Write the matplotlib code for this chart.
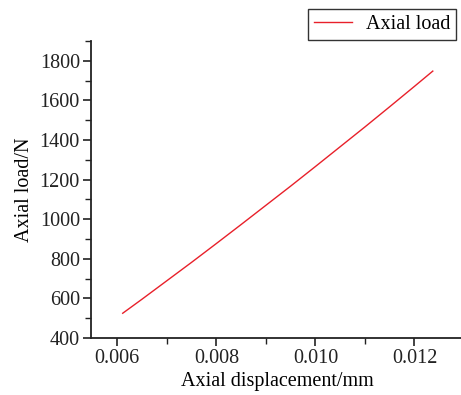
import matplotlib.pyplot as plt
from matplotlib.ticker import MultipleLocator

# Axial displacement (mm) vs axial load (N)
displacement = [0.00611, 0.0065, 0.0070, 0.0075, 0.0080, 0.0085, 0.0090, 0.0095,
                0.0100, 0.0105, 0.0110, 0.0115, 0.0120, 0.01237]
load = [525, 596, 689, 782, 877, 973, 1070, 1167,
        1266, 1366, 1466, 1568, 1671, 1748]

plt.rcParams['font.family'] = ['Liberation Serif', 'DejaVu Serif']

fig = plt.figure(figsize=(4.61, 3.95), dpi=100)
ax = fig.add_axes([91 / 461, 57 / 395, 373 / 461, 297 / 395])

ax.plot(displacement, load, color='#e8202a', linewidth=1.0, label='Axial load')

ax.set_xlim(0.00547, 0.0130)
ax.set_ylim(400, 1900)
ax.xaxis.set_minor_locator(MultipleLocator(0.001))
ax.yaxis.set_minor_locator(MultipleLocator(100))
ax.set_xticks([0.006, 0.008, 0.010, 0.012])
ax.set_xticklabels(['0.006', '0.008', '0.010', '0.012'])
ax.set_yticks([400, 600, 800, 1000, 1200, 1400, 1600, 1800])

for s in ['top', 'right']:
    ax.spines[s].set_visible(False)
for s in ['left', 'bottom']:
    ax.spines[s].set_linewidth(1.3)
    ax.spines[s].set_color('#222222')

ax.tick_params(which='major', direction='out', length=6, width=1.2, labelsize=14.5, pad=2, colors='#222222')
ax.tick_params(which='minor', direction='out', length=4, width=1.0, colors='#222222')

ax.set_xlabel('Axial displacement/mm', fontsize=14.5, labelpad=3)
ax.set_ylabel('Axial load/N', fontsize=14.5, labelpad=4)

leg = fig.legend(loc='upper right', bbox_to_anchor=(456 / 461, 1 - 9 / 395), fontsize=14.5,
                 frameon=True, fancybox=False, edgecolor='black', borderpad=0.3,
                 handlelength=1.9, handletextpad=0.65, borderaxespad=0)
leg.get_frame().set_linewidth(1.0)

fig.savefig('out.png', dpi=100)
